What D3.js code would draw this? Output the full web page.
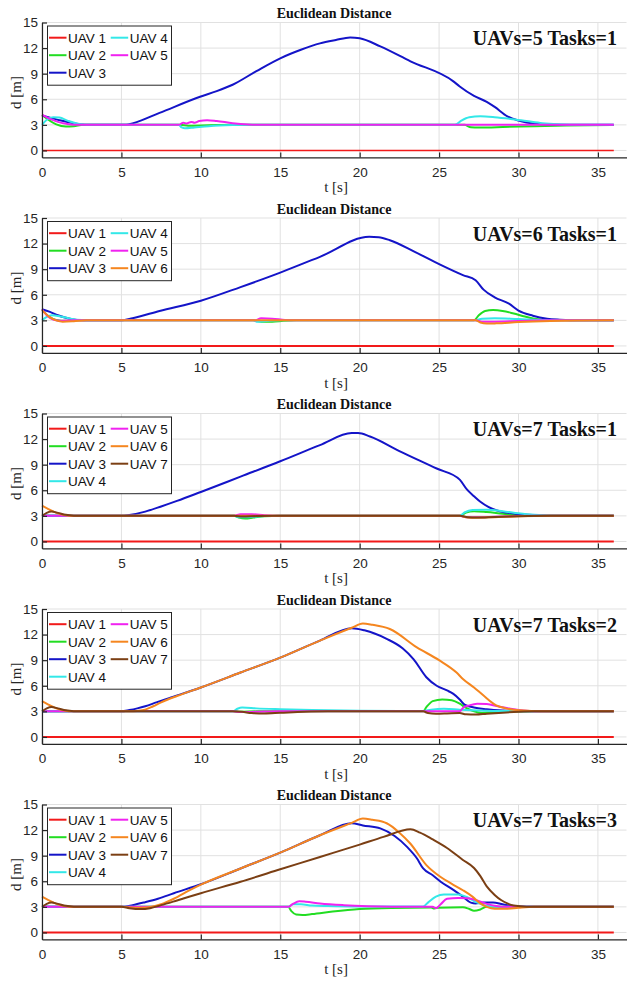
<!DOCTYPE html>
<html><head><meta charset="utf-8">
<script src="https://cdn.jsdelivr.net/npm/d3@7"></script>
<style>
html,body{margin:0;padding:0;background:#fff;}
svg{display:block;}
</style></head>
<body>
<script>
// ---------------- DATA ----------------
const xTicks = [0,5,10,15,20,25,30,35];
const yTicks = [0,3,6,9,12,15];
const uavNames = ["UAV 1","UAV 2","UAV 3","UAV 4","UAV 5","UAV 6","UAV 7"];
const uavColors = ["#f21a1a","#22dd22","#1414c8","#33e8e8","#f022f0","#f5861f","#7b3f14"];
const panelTitles = ["Euclidean Distance","Euclidean Distance","Euclidean Distance","Euclidean Distance","Euclidean Distance"];
const panelLabels = ["UAVs=5 Tasks=1","UAVs=6 Tasks=1","UAVs=7 Tasks=1","UAVs=7 Tasks=2","UAVs=7 Tasks=3"];

// Panel 1 : UAVs=5 Tasks=1  ([t, d] pairs)
const p1_uav1 = [[0,0],[36,0]];
const p1_uav2 = [[0,4.15],[0.4,3.6],[0.9,3.05],[1.5,2.8],[2.0,2.85],[2.6,3.0],[8.7,3.0],[9.2,2.9],[10.5,2.95],[12,3.0],[26.6,3.0],[27,2.72],[27.5,2.7],[29,2.75],[31,2.85],[33,2.93],[36,2.98]];
const p1_uav3 = [[0,4.1],[0.5,3.85],[1.2,3.5],[2.0,3.2],[2.7,3.02],[5.3,3.0],[5.75,3.2],[7.4,4.4],[9.95,6.3],[11,6.95],[12,7.7],[13.5,9.3],[15,10.8],[16.3,11.8],[17.5,12.55],[18.5,12.95],[19.4,13.25],[20,13.15],[21.3,12.2],[23.2,10.45],[25.9,8.1],[26.3,7.5],[27.2,6.4],[28,5.7],[28.5,5.1],[29.3,4.0],[30,3.5],[30.5,3.27],[31.5,3.08],[33,3.02],[36,3.0]];
const p1_uav4 = [[0,3.0],[0.3,3.6],[0.7,3.9],[1.1,3.85],[1.6,3.5],[2.2,3.15],[2.8,3.0],[8.6,3.0],[8.8,2.7],[9.0,2.6],[9.6,2.7],[10.5,2.85],[12,2.97],[13,3.0],[26.0,3.0],[26.4,3.5],[26.9,3.9],[27.6,4.0],[28.5,3.9],[29.5,3.7],[30.5,3.45],[31.5,3.2],[32.5,3.07],[34,3.0],[36,3.0]];
const p1_uav5 = [[0,4.2],[0.5,3.7],[1.0,3.35],[1.6,3.1],[2.3,3.0],[8.6,3.0],[8.9,3.25],[9.1,3.15],[9.4,3.35],[9.6,3.25],[9.9,3.45],[10.4,3.55],[11,3.45],[12,3.2],[13,3.05],[14,3.0],[36,3.0]];

// Panel 2 : UAVs=6 Tasks=1
const p2_uav1 = [[0,0],[36,0]];
const p2_uav2 = [[0,4.3],[0.4,3.5],[0.9,3.05],[1.5,2.95],[2.5,3.0],[13.3,3.0],[13.8,2.85],[14.5,2.85],[15.2,2.95],[16,3.0],[27.2,3.0],[27.5,3.6],[27.9,4.1],[28.4,4.2],[29,4.1],[29.7,3.8],[30.4,3.45],[31,3.2],[31.7,3.05],[33,3.0],[36,3.0]];
const p2_uav3 = [[0,4.3],[0.5,4.0],[1.0,3.6],[1.5,3.3],[2.2,3.05],[3,3.0],[5,3.0],[5.7,3.25],[7.4,4.1],[10,5.3],[12.5,6.9],[15,8.6],[17.5,10.45],[20.6,12.8],[21.2,12.75],[21.9,12.4],[23.5,11.0],[25.1,9.5],[26.5,8.3],[27.3,7.7],[27.8,6.6],[28.5,5.7],[29.4,4.95],[30,4.15],[30.9,3.55],[31.8,3.2],[32.6,3.08],[34,3.0],[36,3.0]];
const p2_uav4 = [[0,3.0],[0.3,3.4],[0.6,3.6],[1.2,3.45],[1.8,3.2],[2.5,3.03],[3,3.0],[13.3,3.0],[13.5,2.85],[14,2.9],[15,3.0],[27.3,3.0],[27.7,3.2],[28.5,3.25],[30,3.15],[31.5,3.05],[33,3.0],[36,3.0]];
const p2_uav5 = [[0,4.3],[0.3,3.6],[0.7,3.1],[1.2,2.95],[2,3.0],[13.4,3.0],[13.8,3.25],[14.5,3.2],[15.3,3.05],[16,3.0],[27.3,3.0],[27.7,2.85],[28.5,2.85],[30,2.92],[32,3.0],[36,3.0]];
const p2_uav6 = [[0,4.2],[0.4,3.5],[0.8,3.05],[1.3,2.85],[2,2.9],[2.8,3.0],[27.3,3.0],[27.6,2.75],[28,2.62],[28.6,2.65],[30,2.8],[32,2.93],[34,2.98],[36,3.0]];

// Panel 3 : UAVs=7 Tasks=1
const p3_uav1 = [[0,0],[36,0]];
const p3_uav2 = [[0,3.0],[12.1,3.0],[12.4,2.8],[12.8,2.7],[13.3,2.8],[14,2.95],[15,3.0],[26.3,3.0],[26.7,3.4],[27.2,3.55],[28,3.45],[29,3.25],[30,3.08],[31,3.0],[36,3.0]];
const p3_uav3 = [[0,3.0],[5,3.0],[5.5,3.1],[6.5,3.5],[7.5,4.1],[8.5,4.75],[10,5.8],[12.5,7.6],[15,9.4],[17.5,11.3],[19.5,12.7],[19.9,12.7],[20.65,12.3],[22.5,10.6],[24.85,8.55],[26.3,7.25],[26.75,6.1],[27.2,5.3],[27.6,4.65],[28.1,4.05],[28.6,3.65],[29.2,3.4],[29.9,3.22],[31,3.08],[32.5,3.0],[36,3.0]];
const p3_uav4 = [[0,3.0],[12.1,3.0],[12.4,2.85],[13,2.85],[14,2.97],[15,3.0],[26.3,3.0],[26.6,3.4],[27.1,3.7],[28,3.72],[29,3.55],[30,3.3],[31,3.12],[32,3.03],[36,3.0]];
const p3_uav5 = [[0,3.0],[12.1,3.0],[12.5,3.2],[13.2,3.2],[14,3.07],[15,3.0],[26.3,3.0],[26.7,2.85],[27.5,2.85],[29,2.93],[31,3.0],[36,3.0]];
const p3_uav6 = [[0,4.2],[0.4,3.8],[0.9,3.35],[1.4,3.1],[2,3.0],[26.3,3.0],[26.7,2.85],[27.3,2.78],[28.5,2.85],[30,2.95],[32,3.0],[36,3.0]];
const p3_uav7 = [[0,3.0],[0.3,3.35],[0.6,3.5],[1.0,3.35],[1.5,3.12],[2.0,3.02],[2.5,3.0],[12.1,3.0],[12.6,2.93],[13.5,2.97],[14.5,3.0],[26.3,3.0],[26.8,2.85],[27.4,2.8],[28.5,2.87],[30,2.95],[32,3.0],[36,3.0]];

// Panel 4 : UAVs=7 Tasks=2
const p4_uav1 = [[0,0],[36,0]];
const p4_uav2 = [[0,3.0],[12,3.0],[12.5,2.95],[13.5,3.0],[24.0,3.0],[24.2,3.5],[24.6,4.2],[25.2,4.4],[25.8,4.3],[26.3,3.9],[26.7,3.4],[27.2,3.0],[27.7,2.82],[28.5,2.88],[29.5,2.97],[31,3.0],[36,3.0]];
const p4_uav3 = [[0,3.0],[5,3.0],[5.5,3.15],[6,3.35],[6.5,3.6],[7.2,4.05],[8,4.55],[10,5.8],[12.5,7.55],[15,9.3],[17.5,11.3],[19.5,12.75],[20.3,12.5],[21.7,11.5],[22.7,10.4],[23.4,9.1],[24.2,7.0],[24.85,6.0],[25.5,5.45],[25.9,5.05],[26.3,4.4],[26.6,3.8],[27.2,3.45],[28,3.25],[29,3.1],[30,3.02],[36,3.0]];
const p4_uav4 = [[0,3.0],[12,3.0],[12.3,3.3],[12.6,3.45],[13.5,3.35],[15,3.25],[17,3.15],[20,3.08],[24,3.05],[24.5,3.2],[25.3,3.3],[26.3,3.2],[27.5,3.1],[29,3.03],[36,3.0]];
const p4_uav5 = [[0,3.0],[12,3.0],[12.5,2.92],[13.5,2.95],[15,3.0],[26.3,3.0],[26.5,3.4],[26.9,3.7],[27.4,3.9],[28,3.85],[28.7,3.6],[29.5,3.3],[30.3,3.1],[31,3.02],[36,3.0]];
const p4_uav6 = [[0,4.2],[0.4,3.8],[0.9,3.35],[1.4,3.1],[2,3.0],[5.5,3.0],[6.0,3.05],[6.5,3.2],[7,3.6],[7.5,4.05],[8.5,4.8],[10,5.8],[12.5,7.55],[15,9.3],[17.5,11.3],[19.5,12.8],[20.2,13.3],[20.8,13.15],[21.9,12.65],[23.6,10.5],[25,9.0],[26.1,7.55],[26.5,6.8],[27.2,5.8],[27.8,4.85],[28.6,3.7],[29.2,3.35],[29.7,3.18],[30.8,3.05],[32,3.0],[36,3.0]];
const p4_uav7 = [[0,3.0],[0.3,3.35],[0.6,3.5],[1.0,3.35],[1.5,3.12],[2.0,3.02],[2.5,3.0],[12.0,3.0],[12.6,2.95],[13.2,2.8],[14,2.75],[15,2.83],[16.5,2.95],[18,3.0],[24.0,3.0],[24.3,2.8],[24.8,2.72],[25.5,2.75],[26.3,2.8],[26.7,2.65],[27.3,2.62],[28,2.72],[29,2.85],[30,2.95],[31,3.0],[36,3.0]];

// Panel 5 : UAVs=7 Tasks=3
const p5_uav1 = [[0,0],[36,0]];
const p5_uav2 = [[0,3.0],[15.5,3.0],[15.7,2.5],[16.0,2.1],[16.4,2.05],[17,2.15],[18.3,2.45],[20,2.75],[22,2.88],[24.5,2.92],[24.7,2.8],[24.9,2.9],[26.5,2.95],[26.9,2.75],[27.2,2.55],[27.6,2.7],[28,3.0],[36,3.0]];
const p5_uav3 = [[0,3.0],[5,3.0],[5.7,3.2],[6.5,3.55],[7.3,3.95],[8.3,4.6],[10,5.65],[12.5,7.5],[15,9.35],[17.5,11.4],[19.5,12.8],[20.2,12.55],[21.3,12.2],[22.2,11.3],[23,10.0],[23.6,8.7],[24,7.5],[24.6,6.7],[25.1,5.95],[25.9,5.0],[26.5,4.2],[27.0,3.5],[27.3,3.4],[27.8,3.5],[28.4,3.5],[29,3.3],[29.7,3.1],[30.5,3.02],[36,3.0]];
const p5_uav4 = [[0,3.0],[15.5,3.0],[15.8,3.3],[16.3,3.3],[17,3.15],[18,3.1],[20,3.05],[24,3.05],[24.3,3.5],[24.8,4.2],[25.3,4.45],[26.2,4.45],[26.8,4.1],[27.3,3.6],[27.8,3.2],[28.5,3.02],[36,3.0]];
const p5_uav5 = [[0,3.0],[15.5,3.0],[15.8,3.35],[16.2,3.65],[16.6,3.6],[17.5,3.4],[19,3.2],[20.5,3.08],[22,3.02],[24.6,3.0],[24.8,2.85],[25.1,3.3],[25.5,3.95],[26.2,4.05],[26.8,4.0],[27.4,3.75],[28,3.35],[28.6,3.1],[29.3,3.0],[36,3.0]];
const p5_uav6 = [[0,4.2],[0.4,3.8],[0.9,3.35],[1.4,3.1],[2,3.0],[5,3.0],[5.8,2.9],[6.5,2.92],[6.9,3.0],[7.5,3.3],[8.3,3.95],[9.3,4.95],[10,5.6],[12.5,7.5],[15,9.35],[17.5,11.4],[19.5,12.85],[20.2,13.35],[20.8,13.2],[21.7,12.8],[22.5,11.7],[23.2,10.4],[24.2,7.9],[25.1,6.5],[25.8,5.7],[26.5,4.95],[27.1,4.2],[27.6,3.4],[28.0,3.0],[28.5,2.78],[29.2,2.78],[30,2.9],[31,3.0],[36,3.0]];
const p5_uav7 = [[0,3.0],[0.3,3.35],[0.6,3.5],[1.0,3.35],[1.5,3.12],[2.0,3.02],[2.5,3.0],[5,3.0],[5.5,2.85],[6.2,2.75],[6.8,2.85],[7.5,3.2],[8.5,3.75],[10,4.6],[12.5,5.95],[15,7.4],[17.5,8.85],[20,10.3],[21.5,11.2],[23.2,12.1],[23.8,11.7],[24.6,10.9],[25.5,9.9],[26.5,8.5],[27.2,7.55],[27.6,6.6],[28,5.4],[28.5,4.4],[28.9,3.8],[29.3,3.4],[29.7,3.15],[30.5,3.02],[36,3.0]];

const panelSeries = [
  [p1_uav1,p1_uav2,p1_uav3,p1_uav4,p1_uav5],
  [p2_uav1,p2_uav2,p2_uav3,p2_uav4,p2_uav5,p2_uav6],
  [p3_uav1,p3_uav2,p3_uav3,p3_uav4,p3_uav5,p3_uav6,p3_uav7],
  [p4_uav1,p4_uav2,p4_uav3,p4_uav4,p4_uav5,p4_uav6,p4_uav7],
  [p5_uav1,p5_uav2,p5_uav3,p5_uav4,p5_uav5,p5_uav6,p5_uav7]
];

// ---------------- LAYOUT ----------------
const W = 627, H = 983;
const panelTops = [22.5, 218, 413.5, 609, 804.5];
const plotLeft = 42, plotRight = 626.5;
const yMin = -0.82, yMax = 15, unitPx = 8.53;
const plotH = (yMax - yMin) * unitPx;
const sans = "'Liberation Sans', Arial, Helvetica, sans-serif";
const serif = "'Liberation Serif', 'Times New Roman', Times, serif";
const axisColor = "#262626";

const svg = d3.select("body").append("svg").attr("width", W).attr("height", H);

const x = d3.scaleLinear().domain([0, 36.8]).range([plotLeft, plotRight]);

panelSeries.forEach((series, pi) => {
  const top = panelTops[pi];
  const bottom = top + plotH;
  const y = d3.scaleLinear().domain([yMin, yMax]).range([bottom, top]);
  const g = svg.append("g");

  // grid
  g.append("g").selectAll("line.gx").data(xTicks).join("line")
    .attr("x1", d => x(d)).attr("x2", d => x(d)).attr("y1", top).attr("y2", bottom)
    .attr("stroke", "#e1e1e1").attr("stroke-width", 1);
  g.append("g").selectAll("line.gy").data(yTicks).join("line")
    .attr("x1", plotLeft).attr("x2", plotRight).attr("y1", d => y(d)).attr("y2", d => y(d))
    .attr("stroke", "#e1e1e1").attr("stroke-width", 1);

  // lines
  const line = d3.line().x(d => x(d[0])).y(d => y(d[1])).curve(d3.curveMonotoneX);
  series.forEach((s, si) => {
    g.append("path").datum(s).attr("d", line)
      .attr("fill", "none").attr("stroke", uavColors[si])
      .attr("stroke-width", (pi === 0 && si === 0) ? 1.4 : 2)
      .attr("stroke-linejoin", "round");
  });

  // axes
  const xAxis = d3.axisBottom(x).tickValues(xTicks).tickSizeInner(-5).tickSizeOuter(0).tickPadding(9.5);
  const gx = g.append("g").attr("transform", `translate(0,${bottom})`).call(xAxis);
  const yAxis = d3.axisLeft(y).tickValues(yTicks).tickSizeInner(-5).tickSizeOuter(0).tickPadding(4);
  const gy = g.append("g").attr("transform", `translate(${plotLeft},0)`).call(yAxis);
  [gx, gy].forEach(a => {
    a.select(".domain").attr("stroke", axisColor).attr("stroke-width", 1.2);
    a.selectAll(".tick line").attr("stroke", axisColor).attr("stroke-width", 1.2);
    a.selectAll(".tick text").attr("fill", axisColor).style("font-family", sans).style("font-size", "13.5px");
  });

  // title
  g.append("text").attr("x", 334).attr("y", top - 4.5).attr("text-anchor", "middle")
    .style("font-family", serif).style("font-weight", "bold").style("font-size", "14px")
    .attr("fill", "#111").text(panelTitles[pi]);
  // x label
  g.append("text").attr("x", 336).attr("y", bottom + 35).attr("text-anchor", "middle")
    .style("font-family", serif).style("font-size", "15px").attr("fill", axisColor).text("t [s]");
  // y label
  g.append("text").attr("transform", `translate(21,${top + 70}) rotate(-90)`).attr("text-anchor", "middle")
    .style("font-family", serif).style("font-size", "15px").attr("fill", axisColor).text("d [m]");
  // annotation
  g.append("text").attr("x", 617).attr("y", top + 22.5).attr("text-anchor", "end")
    .style("font-family", serif).style("font-weight", "bold").style("font-size", "20px")
    .attr("fill", "#111").text(panelLabels[pi]);

  // legend
  const n = series.length;
  const rows = Math.ceil(n / 2);
  const lg = g.append("g");
  lg.append("rect").attr("x", 47.5).attr("y", top + 3.5).attr("width", 124).attr("height", 6.7 + rows * 17.5)
    .attr("fill", "#fff").attr("stroke", "#262626").attr("stroke-width", 1);
  for (let i = 0; i < n; i++) {
    const col = Math.floor(i / rows), row = i % rows;
    const lx = col === 0 ? 49 : 110.7;
    const ly = top + 15.2 + row * 17.5;
    lg.append("line").attr("x1", lx).attr("x2", lx + 17.5).attr("y1", ly).attr("y2", ly)
      .attr("stroke", uavColors[i]).attr("stroke-width", 2);
    lg.append("text").attr("x", lx + 19).attr("y", ly + 4.8)
      .style("font-family", sans).style("font-size", "13.5px").attr("fill", "#111").text(uavNames[i]);
  }
});
</script>
</body></html>
